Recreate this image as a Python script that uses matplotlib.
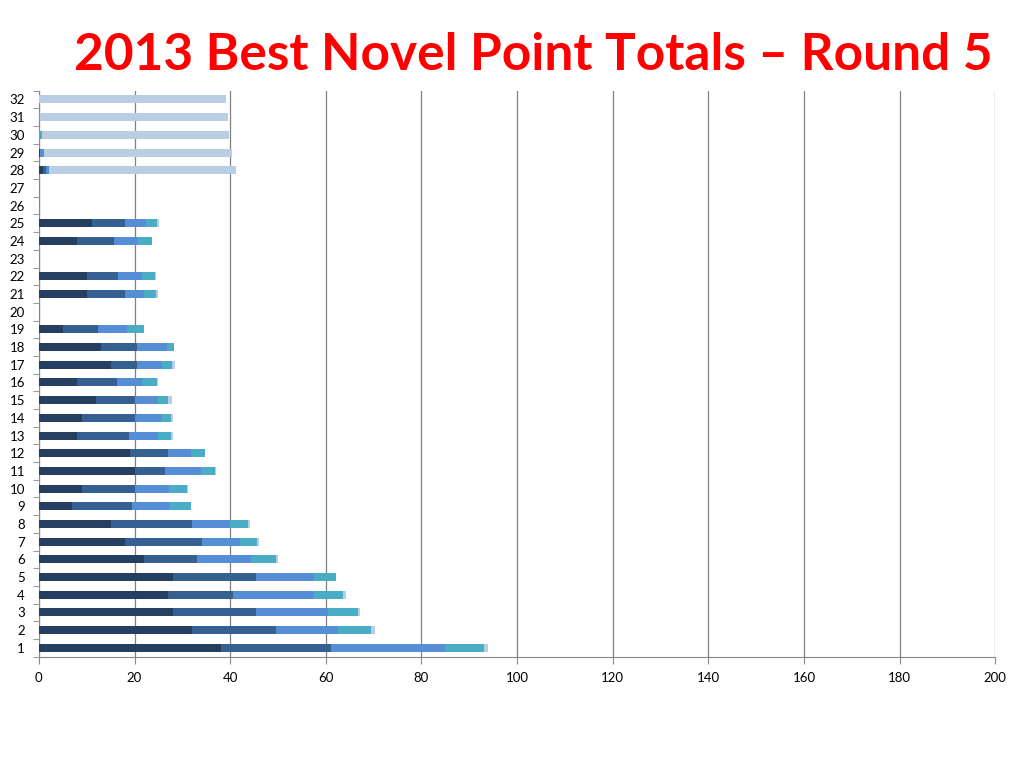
import numpy as np
import matplotlib.pyplot as plt
from matplotlib.ticker import FixedLocator

# categories 1..32 (bottom to top)
ranks = list(range(1, 33))

# point segments per category (0 where no bar)
seg1 = [38, 32, 28, 27, 28, 22, 18, 15, 7, 9, 20, 19, 8, 9, 12, 8, 15, 13, 5, 0,
        10, 10, 0, 8, 11, 0, 0, 0.9, 0.3, 0, 0.1, 0]
seg2 = [23, 17.5, 17.5, 13.5, 17.5, 11, 16, 17, 12.5, 11, 6.4, 8, 10.9, 11, 8, 8.4, 5.5, 7.5, 7.3, 0,
        8, 6.5, 0, 7.6, 7, 0, 0, 0.6, 0, 0, 0, 0]
seg3 = [24, 13, 15, 17, 12, 11.4, 8, 8, 7.6, 7.3, 7.4, 4.7, 6.1, 5.6, 5, 5.1, 5.2, 6.3, 6.1, 0,
        4, 5, 0, 5.2, 4.3, 0, 0, 0.6, 0.8, 0, 0, 0]
seg4 = [8, 7, 6.2, 6, 4.6, 5.2, 3.6, 3.8, 4.6, 3.7, 3, 3, 2.6, 2, 1.9, 3.1, 2.1, 1.5, 3.5, 0,
        2.5, 2.7, 0, 2.8, 2.4, 0, 0, 0, 0, 0.6, 0.1, 0]
seg5 = [1, 0.8, 0.4, 0.7, 0, 0.3, 0.4, 0.4, 0, 0.2, 0.3, 0, 0.4, 0.4, 1.0, 0.4, 0.7, 0, 0, 0,
        0.3, 0.2, 0, 0, 0.5, 0, 0, 39.1, 39.2, 39.2, 39.3, 39.2]

series = [seg1, seg2, seg3, seg4, seg5]
colors = ['#243F60', '#376092', '#558ED5', '#4BACC6', '#B9CDE5']

plt.rcParams['font.family'] = ['Lato', 'DejaVu Sans']

fig = plt.figure(figsize=(10.24, 7.68), dpi=100)
ax = fig.add_axes([0.038, 0.145, 0.934, 0.737])

left = np.zeros(len(ranks))
for vals, col in zip(series, colors):
    vals = np.array(vals, dtype=float)
    ax.barh(ranks, vals, left=left, height=0.45, color=col, edgecolor='none', zorder=3)
    left += vals

ax.set_xlim(0, 200)
ax.set_ylim(0.5, 32.5)
ax.set_xticks(np.arange(0, 201, 20))
ax.set_yticks(ranks)
ax.yaxis.set_minor_locator(FixedLocator(np.arange(0.5, 33, 1)))
ax.tick_params(axis='y', which='major', length=0, labelsize=9.5, pad=10)
ax.tick_params(axis='y', which='minor', length=4, color='#888888', direction='out')
ax.tick_params(axis='x', which='major', length=5, color='#888888', labelsize=9.5, pad=6)

ax.grid(True, axis='x', color='#808080', linewidth=0.9, zorder=0)
for s in ['top', 'right']:
    ax.spines[s].set_visible(False)
ax.spines['left'].set_color('#888888')
ax.spines['bottom'].set_color('#888888')

fig.text(0.521, 0.928, '2013 Best Novel Point Totals \u2013 Round 5', color='#FF0000',
         fontsize=37, fontweight='bold', ha='center', va='center')

fig.savefig('out.png', dpi=100)
